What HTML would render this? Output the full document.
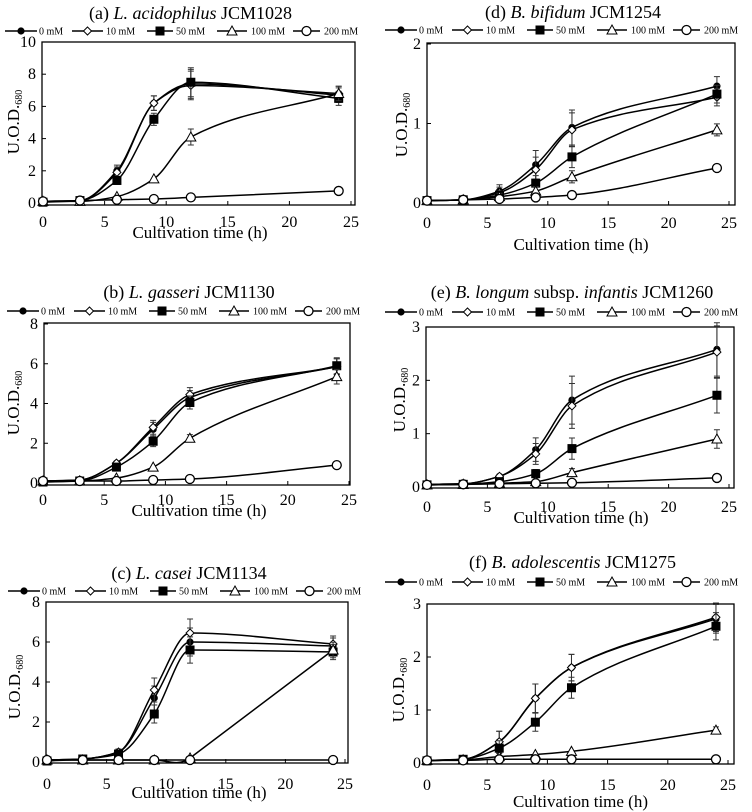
<!DOCTYPE html>
<html><head><meta charset="utf-8"><style>
html,body{margin:0;padding:0;background:#fff;}
svg{display:block;font-family:"Liberation Serif","DejaVu Serif",serif;}
svg text, svg tspan{font-family:"Liberation Serif","DejaVu Serif",serif !important;}
</style></head><body>
<svg id="fig" width="752" height="812" viewBox="0 0 752 812" xmlns="http://www.w3.org/2000/svg"></svg>
<script>
const times = [0, 3, 6, 9, 12, 24];
const seriesLabels = ["0 mM", "10 mM", "50 mM", "100 mM", "200 mM"];
const xTicks = [0, 5, 10, 15, 20, 25];
// panel a
const aS0 = [0.1, 0.15, 2.0, 6.2, 7.4, 6.7];
const aS10 = [0.1, 0.15, 1.9, 6.2, 7.3, 6.8];
const aS50 = [0.05, 0.15, 1.4, 5.2, 7.5, 6.5];
const aS100 = [0.1, 0.1, 0.4, 1.5, 4.1, 6.8];
const aS200 = [0.1, 0.15, 0.2, 0.25, 0.35, 0.75];
const aErr = [0.05, 0.1, 0.35, 0.45, 0.9, 0.45];
const aYTicks = [0, 2, 4, 6, 8, 10];
// panel b
const bS0 = [0.1, 0.15, 1.0, 2.7, 4.3, 5.85];
const bS10 = [0.1, 0.15, 1.0, 2.8, 4.45, 5.85];
const bS50 = [0.05, 0.1, 0.8, 2.1, 4.05, 5.9];
const bS100 = [0.1, 0.1, 0.25, 0.8, 2.25, 5.35];
const bS200 = [0.1, 0.1, 0.1, 0.15, 0.2, 0.9];
const bErr = [0.05, 0.05, 0.15, 0.35, 0.35, 0.4];
const bYTicks = [0, 2, 4, 6, 8];
// panel c
const cS0 = [0.1, 0.15, 0.5, 3.2, 6.0, 5.8];
const cS10 = [0.1, 0.15, 0.5, 3.6, 6.45, 5.9];
const cS50 = [0.05, 0.15, 0.4, 2.4, 5.6, 5.5];
const cS100 = [0.1, 0.1, 0.1, 0.1, 0.2, 5.6];
const cS200 = [0.1, 0.1, 0.1, 0.1, 0.1, 0.1];
const cErr = [0.05, 0.05, 0.15, 0.6, 0.7, 0.4];
const cYTicks = [0, 2, 4, 6, 8];
// panel d
const dS0 = [0.03, 0.04, 0.15, 0.48, 0.95, 1.47];
const dS10 = [0.03, 0.04, 0.13, 0.42, 0.92, 1.33];
const dS50 = [0.03, 0.04, 0.1, 0.25, 0.58, 1.37];
const dS100 = [0.03, 0.04, 0.08, 0.15, 0.33, 0.92];
const dS200 = [0.03, 0.04, 0.05, 0.07, 0.1, 0.44];
const dErr = [0.01, 0.01, 0.08, 0.18, 0.22, 0.12];
const dYTicks = [0, 1, 2];
// panel e
const eS0 = [0.05, 0.06, 0.2, 0.7, 1.63, 2.58];
const eS10 = [0.05, 0.06, 0.2, 0.62, 1.52, 2.53];
const eS50 = [0.04, 0.05, 0.1, 0.25, 0.72, 1.72];
const eS100 = [0.04, 0.05, 0.07, 0.1, 0.27, 0.9];
const eS200 = [0.04, 0.05, 0.06, 0.07, 0.08, 0.17];
const eErr = [0.02, 0.02, 0.05, 0.22, 0.45, 0.5];
const eYTicks = [0, 1, 2, 3];
// panel f
const fS0 = [0.05, 0.07, 0.4, 1.22, 1.8, 2.72];
const fS10 = [0.05, 0.07, 0.4, 1.22, 1.8, 2.75];
const fS50 = [0.04, 0.07, 0.28, 0.77, 1.42, 2.58];
const fS100 = [0.05, 0.06, 0.12, 0.16, 0.22, 0.62];
const fS200 = [0.05, 0.05, 0.07, 0.07, 0.07, 0.07];
const fErr = [0.02, 0.02, 0.2, 0.27, 0.25, 0.27];
const fYTicks = [0, 1, 2, 3];

const NS = "http://www.w3.org/2000/svg";
const svg = document.getElementById("fig");
function mk(tag, attrs, parent) {
  const e = document.createElementNS(NS, tag);
  for (const k in attrs) e.setAttribute(k, attrs[k]);
  (parent || svg).appendChild(e);
  return e;
}

const panels = [
  {id:"a", pre:"(a)", it:"L. acidophilus", rest:" JCM1028", series:[aS0,aS10,aS50,aS100,aS200], err:aErr, yt:aYTicks,
   L:42, R:355, T:42, B:205, x0:43, x25:351, y0:203, yMaxPx:42, titleY:19, legY:31, tickY:227, xtY:238, ylX:14, ylY:122, legX:0},
  {id:"b", pre:"(b)", it:"L. gasseri", rest:" JCM1130", series:[bS0,bS10,bS50,bS100,bS200], err:bErr, yt:bYTicks,
   L:44, R:350, T:323, B:485, x0:43, x25:349, y0:483, yMaxPx:324, titleY:298, legY:311, tickY:505, xtY:516, ylX:14, ylY:403, legX:2},
  {id:"c", pre:"(c)", it:"L. casei", rest:" JCM1134", series:[cS0,cS10,cS50,cS100,cS200], err:cErr, yt:cYTicks,
   L:46, R:348, T:602, B:763, x0:47, x25:345, y0:762, yMaxPx:602, titleY:579, legY:591, tickY:789, xtY:798, ylX:15, ylY:687, legX:3},
  {id:"d", pre:"(d)", it:"B. bifidum", rest:" JCM1254", series:[dS0,dS10,dS50,dS100,dS200], err:dErr, yt:dYTicks,
   L:427, R:735, T:43, B:205, x0:427, x25:729, y0:203, yMaxPx:44, titleY:18, legY:30, tickY:228, xtY:250, ylX:402, ylY:125, legX:380},
  {id:"e", pre:"(e)", it:"B. longum", rest:" subsp. ", it2:"infantis", rest2:" JCM1260", series:[eS0,eS10,eS50,eS100,eS200], err:eErr, yt:eYTicks,
   L:426, R:734, T:327, B:488, x0:427, x25:729, y0:487, yMaxPx:327, titleY:298, legY:312, tickY:512, xtY:523, ylX:400, ylY:400, legX:380},
  {id:"f", pre:"(f)", it:"B. adolescentis", rest:" JCM1275", series:[fS0,fS10,fS50,fS100,fS200], err:fErr, yt:fYTicks,
   L:427, R:734, T:604, B:764, x0:427, x25:728, y0:763, yMaxPx:604, titleY:568, legY:582, tickY:790, xtY:807, ylX:399, ylY:690, legX:380}
];

// monotone cubic; last segment straight when the series jumps from a flat start
function smoothPath(pts) {
  const n = pts.length;
  const dx = [], m = [], d = [];
  for (let i = 0; i < n-1; i++) { dx.push(pts[i+1][0]-pts[i][0]); d.push((pts[i+1][1]-pts[i][1])/dx[i]); }
  m[0] = d[0]; m[n-1] = d[n-2];
  for (let i = 1; i < n-1; i++) {
    if (d[i-1]*d[i] <= 0) m[i] = 0;
    else { const w1 = 2*dx[i]+dx[i-1], w2 = dx[i]+2*dx[i-1]; m[i] = (w1+w2)/(w1/d[i-1]+w2/d[i]); }
  }
  if (Math.abs(d[n-2]) > 4*Math.abs(d[n-3]) + 0.05) { m[n-2] = d[n-2]; m[n-1] = d[n-2]; }
  let s = "M" + pts[0][0] + "," + pts[0][1];
  for (let i = 0; i < n-1; i++) {
    const h = dx[i]/3;
    s += " C" + (pts[i][0]+h) + "," + (pts[i][1]+m[i]*h) + " " + (pts[i+1][0]-h) + "," + (pts[i+1][1]-m[i+1]*h) + " " + pts[i+1][0] + "," + pts[i+1][1];
  }
  return s;
}

function marker(g, k, x, y, name) {
  let m;
  if (k === 0) m = mk("circle", {cx:x, cy:y, r:3.6, fill:"#000"}, g);
  else if (k === 1) m = mk("path", {d:`M${x},${y-4}L${x+4},${y}L${x},${y+4}L${x-4},${y}Z`, fill:"#fff", stroke:"#000", "stroke-width":1}, g);
  else if (k === 2) m = mk("rect", {x:x-4.5, y:y-4.5, width:9, height:9, fill:"#000"}, g);
  else if (k === 3) m = mk("path", {d:`M${x},${y-5}L${x+5},${y+4}L${x-5},${y+4}Z`, fill:"#fff", stroke:"#000", "stroke-width":1}, g);
  else m = mk("circle", {cx:x, cy:y, r:4.5, fill:"#fff", stroke:"#000", "stroke-width":1.3}, g);
  
  
}

const legOffsets = [[5,37,38],[72,103,105],[147,173,175],[217,247,250],[293,320,323]];

panels.forEach(p => {
  const g = mk("g", {});
  
  
  const ymax = p.yt[p.yt.length-1];
  const sx = v => p.x0 + (p.x25 - p.x0) * v / 25;
  const sy = v => p.y0 - (p.y0 - p.yMaxPx) * v / ymax;
  const cx = (p.L + p.R) / 2;

  const tt = mk("text", {x:cx - 8, y:p.titleY, "text-anchor":"middle", "font-size":"18"}, g);
  
  
  let s = mk("tspan", {}, tt); s.textContent = p.pre + "  ";
  s = mk("tspan", {"font-style":"italic"}, tt); s.textContent = p.it;
  s = mk("tspan", {}, tt); s.textContent = p.rest;
  if (p.it2) { s = mk("tspan", {"font-style":"italic"}, tt); s.textContent = p.it2; s = mk("tspan", {}, tt); s.textContent = p.rest2; }

  const lg = mk("g", {}, g);
  
  
  seriesLabels.forEach((lab, k) => {
    const o = legOffsets[k];
    const x1 = p.legX + o[0], x2 = p.legX + o[1];
    const ln = mk("line", {x1:x1, x2:x2, y1:p.legY, y2:p.legY, stroke:"#000", "stroke-width":1.4}, lg);
    
    
    marker(lg, k, (x1+x2)/2, p.legY, 'legend-marker-' + k);
    const t = mk("text", {x:p.legX + o[2] + 1, y:p.legY + 3.5, "font-size":"10"}, lg);
    t.textContent = lab;
    
    
  });

  const fr = mk("rect", {x:p.L, y:p.T, width:p.R-p.L, height:p.B-p.T, fill:"none", stroke:"#000", "stroke-width":1.3}, g);
  
  

  xTicks.forEach(v => {
    const x = sx(v);
    const tl = mk("line", {x1:x, x2:x, y1:p.B, y2:p.B-4, stroke:"#000", "stroke-width":1}, g);
    
    
    const t = mk("text", {x:x, y:p.tickY, "text-anchor":"middle", "font-size":"16"}, g);
    t.textContent = v;
    
    
  });
  p.yt.forEach(v => {
    const y = sy(v);
    const tl = mk("line", {x1:p.L, x2:p.L+4, y1:y, y2:y, stroke:"#000", "stroke-width":1}, g);
    
    
    const t = mk("text", {x:p.L - 6, y:y + 5, "text-anchor":"end", "font-size":"16"}, g);
    t.textContent = v;
    
    
  });
  const xt = mk("text", {x:(p.x0+p.x25)/2 + 3, y:p.xtY, "text-anchor":"middle", "font-size":"17"}, g);
  xt.textContent = "Cultivation time (h)";
  
  
  const yl = mk("text", {x:0, y:0, "text-anchor":"middle", "font-size":"17", transform:`translate(${p.ylX + 5},${p.ylY}) rotate(-90)`}, g);
  
  
  s = mk("tspan", {}, yl); s.textContent = "U.O.D.";
  s = mk("tspan", {"font-size":"10", dy:"3"}, yl); s.textContent = "680";

  const ref = p.series[0];
  p.series.forEach((vals, k) => {
    const sg = mk("g", {}, g);
    
    
    const pts = vals.map((v, i) => [sx(times[i]), sy(v)]);
    vals.forEach((v, i) => {
      const e = p.err[i] * Math.min(1, v / Math.max(ref[i], 0.01));
      if (e * (p.y0 - p.yMaxPx) / ymax < 3) return;
      const x = sx(times[i]);
      const eb = mk("path", {d:`M${x},${sy(v-e)}V${sy(v+e)}M${x-3},${sy(v-e)}H${x+3}M${x-3},${sy(v+e)}H${x+3}`, stroke:"#333", "stroke-width":1, fill:"none"}, sg);
      
      
    });
    const ln = mk("path", {d:smoothPath(pts), fill:"none", stroke:"#000", "stroke-width":1.5}, sg);
    
    
    pts.forEach(pt => marker(sg, k, pt[0], pt[1], 'data-point'));
  });
});
</script>
</body></html>
